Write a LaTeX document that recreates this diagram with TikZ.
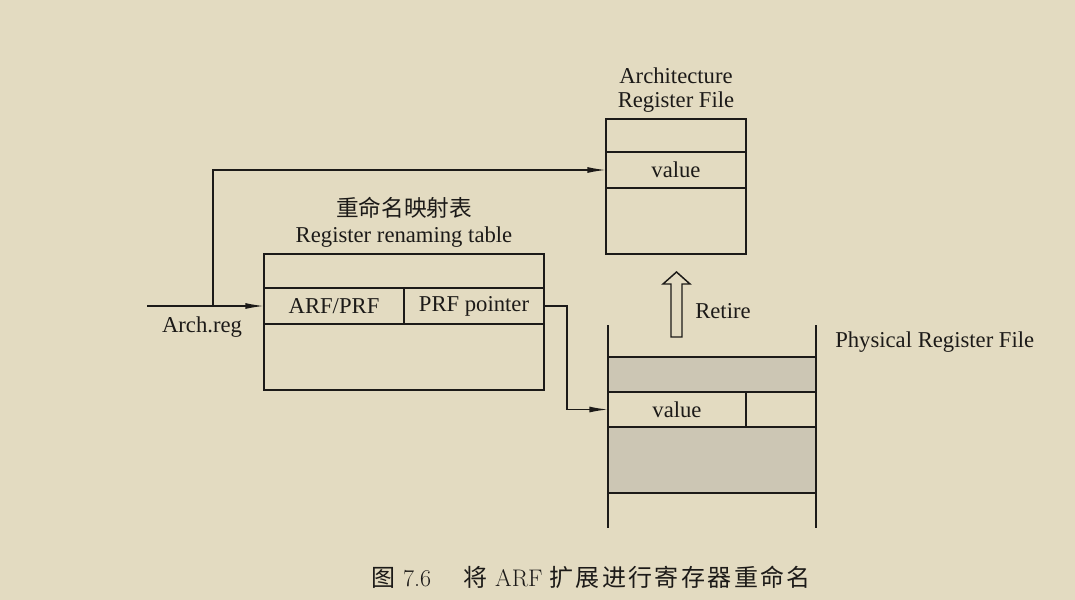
\documentclass[tikz,border=0pt]{standalone}
\usepackage{fontspec}
\usepackage{tikz}
\usetikzlibrary{arrows.meta,positioning}
\newfontfamily\tnr{Liberation Serif}
\newfontfamily\cjk{Noto Sans CJK SC}
\newfontfamily\capcjk[LetterSpace=10]{Noto Sans CJK SC}
\newlength{\px}
\setlength{\px}{0.75pt}
\definecolor{PaperColor}{RGB}{227,219,193}
\definecolor{InkColor}{RGB}{28,26,24}
\definecolor{ShadeColor}{RGB}{204,198,180}
\tikzset{>={Latex[length=14pt,width=4.5pt]}}
\tikzset{
  cell/.style={draw=InkColor,line width=1.1pt,inner sep=0pt,outer sep=0pt,
    font=\tnr\fontsize{17}{18}\selectfont,text=InkColor},
  shadecell/.style={cell,fill=ShadeColor},
  lbl/.style={inner sep=0pt,font=\tnr\fontsize{17}{18}\selectfont,text=InkColor},
  wire/.style={draw=InkColor,line width=1.1pt}
}

\begin{document}
\begin{tikzpicture}[x=\px,y=-\px]
		% border
		\fill[PaperColor] (0,0) rectangle (1075,600);
		\useasboundingbox (0,0) rectangle (1075,600);

		% architecture register file
		\node[cell,minimum width=105pt,minimum height=24.75pt,anchor=north west] (arftop) at (606,119) {};
		\node[cell,minimum width=105pt,minimum height=27pt,below=0pt of arftop] (arfval) {value};
		\node[cell,minimum width=105pt,minimum height=49.5pt,below=0pt of arfval] (arfbot) {};
		\node[lbl,align=center,above=4.5pt of arftop] (arftitle) {Architecture\\Register File};

		% register renaming table
		\node[cell,minimum width=210pt,minimum height=25.5pt,anchor=north west] (tabtop) at (264,254) {};
		\node[cell,minimum width=105pt,minimum height=27pt,anchor=north west] (flag) at (264,288) {ARF/PRF};
		\node[cell,minimum width=105pt,minimum height=27pt,right=0pt of flag] (pointer) {PRF pointer};
		\node[cell,minimum width=210pt,minimum height=49.5pt,anchor=north west] (tabbot) at (264,324) {};
		\node[lbl,align=center,above=5pt of tabtop] (tabtitle) {{\cjk 重命名映射表}\\[1.5pt]Register renaming table};

		% physical register file
		\draw[wire] (608,325) -- (608,528);
		\draw[wire] (816,325) -- (816,528);
		\node[shadecell,minimum width=156pt,minimum height=26.25pt,anchor=north west] (prftop) at (608,357) {};
		\node[cell,minimum width=103.5pt,minimum height=26.25pt,anchor=north west] (prfval) at (608,392) {value};
		\node[cell,minimum width=52.5pt,minimum height=26.25pt,right=0pt of prfval] (prfrest) {};
		\node[shadecell,minimum width=156pt,minimum height=49.5pt,anchor=north west] (prfbot) at (608,427) {};
		\node[lbl,anchor=west] (prftitle) at (835,342) {Physical Register File};

		% connectors
		\coordinate (archin) at (147,306);
		\coordinate (fork) at (213,306);
		\node[lbl] (archlbl) at (202,327) {Arch.reg};
		\draw[wire,->] (archin) -- (flag.west);
		\draw[wire,->] (fork) |- (arfval.west);
		\draw[wire,->] (pointer.east) -- ++(23,0) |- (prfval.west);

		% retire
		\draw[wire,line join=miter] (671,337) -- (671,284) -- (663,284) -- (676.5,272) -- (690,284) -- (682,284) -- (682,337) -- cycle;
		\node[lbl,anchor=west] (retire) at (695,311) {Retire};

		% caption
		\node[inner sep=0pt,text=InkColor,font=\fontsize{18}{19}\selectfont] (caption) at (591,577)
			{{\capcjk 图}\hspace{6pt}7.6\hspace{24pt}{\capcjk 将}\hspace{6pt}ARF\hspace{5pt}{\capcjk 扩展进行寄存器重命名}};
	\end{tikzpicture}
\end{document}
